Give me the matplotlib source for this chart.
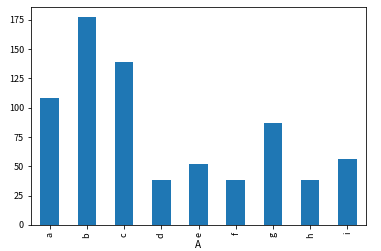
import matplotlib
matplotlib.use('Agg')
import matplotlib.pyplot as plt
import pandas as pd

categories = ['a', 'b', 'c', 'd', 'e', 'f', 'g', 'h', 'i']
values = [108, 177, 139, 38, 52, 38, 87, 38, 56]

plt.rcParams['font.family'] = ['Noto Sans CJK SC', 'DejaVu Sans']
plt.rcParams['axes.unicode_minus'] = False

df = pd.DataFrame({'A': categories, 'B': values})
s = df.set_index('A')['B']

fig = plt.figure(figsize=(381 / 72, 251 / 72), dpi=72)
ax = fig.add_axes([31 / 381, 26 / 251, 335 / 381, 218 / 251])
s.plot(kind='bar', ax=ax, color='#1f77b4')
ax.set_xlabel('A', labelpad=2)
ax.tick_params(labelsize=9)

fig.savefig('out.png', dpi=72)
